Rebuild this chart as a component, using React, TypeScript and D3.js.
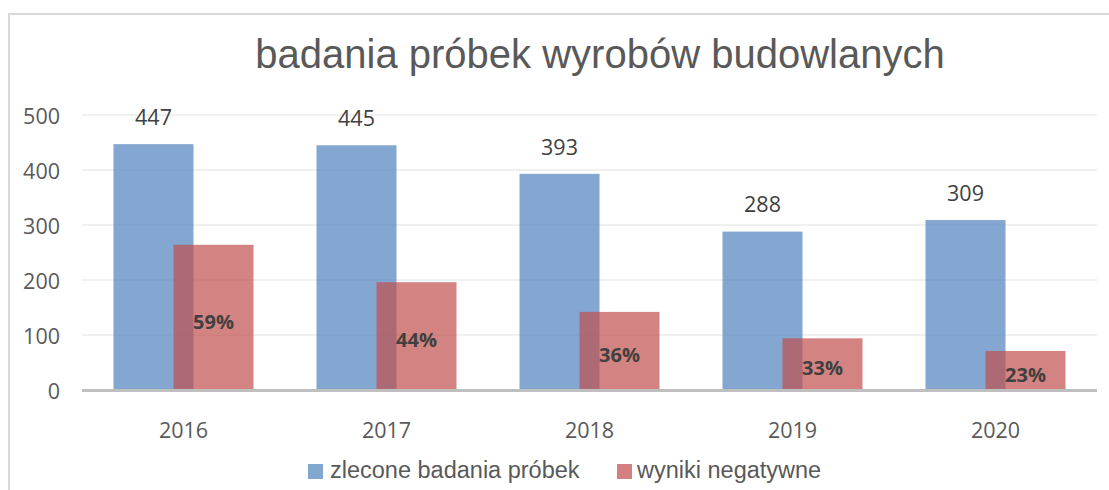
import React from "react";
import * as d3 from "d3";

const years = ["2016", "2017", "2018", "2019", "2020"];
const ordered = [447, 445, 393, 288, 309];
const negative = [264, 196, 142, 94, 71];
const negativePct = ["59%", "44%", "36%", "33%", "23%"];
const yTicks = [0, 100, 200, 300, 400, 500];
const seriesNames = ["zlecone badania próbek", "wyniki negatywne"];
const title = "badania próbek wyrobów budowlanych";

const W = 1109;
const H = 490;
const BLUE = "rgb(79,129,189)";
const RED = "rgb(192,80,77)";
const OP = 0.7;
const blueLegend = "#82a7cf";
const redLegend = "#d47f80";
const numFont = "'Open Sans', 'Noto Sans', sans-serif";
const txtFont = "'Liberation Sans', Arial, sans-serif";

export default function App() {
  const x = d3.scaleBand<string>().domain(years).range([82, 1097]).padding(0);
  const y = d3.scaleLinear().domain([0, 500]).range([390, 115]);
  const barW = 80;
  const cx = (yr: string) => (x(yr) as number) + x.bandwidth() / 2;

  return (
    <svg
      width={W}
      height={H}
      style={{ position: "absolute", left: 0, top: 0, background: "#fff" }}
    >
      <rect x={0} y={0} width={W} height={H} fill="#fff" />
      <path d={`M9,${H + 5} L9,14 L${W + 5},14`} fill="none" stroke="#d9d9d9" strokeWidth={2} />
      <text
        x={600}
        y={68}
        textAnchor="middle"
        fontFamily={txtFont}
        fontSize={40}
        fill="#595959"
      >
        {title}
      </text>
      {yTicks.filter((t) => t > 0).map((t) => (
        <line key={t} x1={82} x2={1097} y1={y(t)} y2={y(t)} stroke="#ebebeb" strokeWidth={1.5} />
      ))}
      {yTicks.map((t) => (
        <text
          key={"yl" + t}
          x={60}
          y={y(t) + 1}
          dy="0.36em"
          textAnchor="end"
          fontFamily={numFont}
          fontSize={21.5}
          fill="#595959"
        >
          {t}
        </text>
      ))}
      {years.map((yr, i) => (
        <rect
          key={"b" + yr}
          x={cx(yr) - 70}
          y={y(ordered[i])}
          width={barW}
          height={y(0) - y(ordered[i])}
          fill={BLUE}
          fillOpacity={OP}
        />
      ))}
      {years.map((yr, i) => (
        <rect
          key={"r" + yr}
          x={cx(yr) - 10}
          y={y(negative[i])}
          width={barW}
          height={y(0) - y(negative[i])}
          fill={RED}
          fillOpacity={OP}
        />
      ))}
      <line x1={82} x2={1097} y1={y(0) + 0.5} y2={y(0) + 0.5} stroke="#bfbfbf" strokeWidth={3} />
      {years.map((yr, i) => (
        <text
          key={"v" + yr}
          x={cx(yr) - 30}
          y={y(ordered[i]) - 27}
          dy="0.36em"
          textAnchor="middle"
          fontFamily={numFont}
          fontSize={21.5}
          fill="#404040"
        >
          {ordered[i]}
        </text>
      ))}
      {years.map((yr, i) => (
        <text
          key={"p" + yr}
          x={cx(yr) + 30}
          y={(y(negative[i]) + y(0)) / 2 + 4}
          dy="0.36em"
          textAnchor="middle"
          fontFamily={numFont}
          fontSize={20}
          fontWeight="bold"
          fill="#404040"
        >
          {negativePct[i]}
        </text>
      ))}
      {years.map((yr) => (
        <text
          key={"x" + yr}
          x={cx(yr)}
          y={430}
          dy="0.36em"
          textAnchor="middle"
          fontFamily={numFont}
          fontSize={21.5}
          fill="#595959"
        >
          {yr}
        </text>
      ))}
      <rect x={308} y={464} width={15} height={15} fill={blueLegend} />
      <text x={330} y={478} fontFamily={txtFont} fontSize={23.5} fill="#595959">
        {seriesNames[0]}
      </text>
      <rect x={617} y={464} width={15} height={15} fill={redLegend} />
      <text x={637} y={478} fontFamily={txtFont} fontSize={23.5} fill="#595959">
        {seriesNames[1]}
      </text>
    </svg>
  );
}
